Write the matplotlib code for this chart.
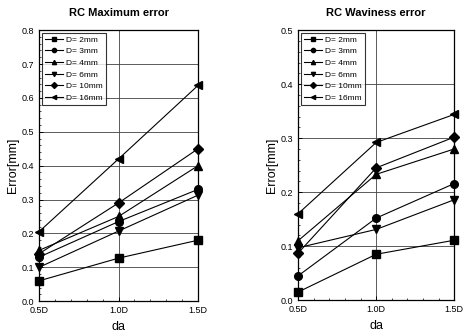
import matplotlib
matplotlib.use("Agg")
import matplotlib.pyplot as plt

plt.rcParams['font.family'] = ['Liberation Sans', 'DejaVu Sans']

# x positions (da) and their tick labels
da = [0.5, 1.0, 1.5]
da_labels = ['0.5D', '1.0D', '1.5D']

series_labels = ['D= 2mm', 'D= 3mm', 'D= 4mm', 'D= 6mm', 'D= 10mm', 'D= 16mm']
markers = ['s', 'o', '^', 'v', 'D', '<']

# RC Maximum error [mm]
max_2mm = [0.06, 0.127, 0.18]
max_3mm = [0.13, 0.235, 0.33]
max_4mm = [0.15, 0.25, 0.40]
max_6mm = [0.10, 0.207, 0.313]
max_10mm = [0.14, 0.29, 0.45]
max_16mm = [0.205, 0.42, 0.637]

# RC Waviness error [mm]
wav_2mm = [0.015, 0.085, 0.111]
wav_3mm = [0.045, 0.152, 0.216]
wav_4mm = [0.11, 0.233, 0.28]
wav_6mm = [0.097, 0.131, 0.186]
wav_10mm = [0.087, 0.245, 0.302]
wav_16mm = [0.16, 0.292, 0.344]

max_series = [max_2mm, max_3mm, max_4mm, max_6mm, max_10mm, max_16mm]
wav_series = [wav_2mm, wav_3mm, wav_4mm, wav_6mm, wav_10mm, wav_16mm]

fig = plt.figure(figsize=(4.65, 3.35), dpi=100)
ax1 = fig.add_axes([0.084, 0.101, 0.342, 0.809])
ax2 = fig.add_axes([0.641, 0.104, 0.336, 0.806])


def draw_panel(ax, series, title, ymax):
    ax.set_xlim(0.5, 1.5)
    ax.set_ylim(0, ymax)
    yt = [round(i * 0.1, 1) for i in range(int(round(ymax * 10)) + 1)]
    ax.set_yticks(yt)
    ax.set_yticklabels([f'{v:.1f}' for v in yt])
    ax.set_xticks(da)
    ax.set_xticklabels(da_labels)
    ax.grid(True, color='0.25', lw=0.6)
    ax.set_axisbelow(True)
    for vals, mk, lab in zip(series, markers, series_labels):
        ax.plot(da, vals, color='black', lw=0.8, marker=mk, ms=5.5,
                label=lab, clip_on=False, zorder=3)
    ax.tick_params(labelsize=6.5, direction='in', length=3, width=0.7)
    ax.minorticks_on()
    ax.tick_params(which='minor', direction='in', length=1.5, width=0.5)
    for sp in ax.spines.values():
        sp.set_linewidth(0.9)
    ax.set_title(title, fontsize=8, fontweight='bold', pad=10)
    ax.set_xlabel('da', fontsize=9, labelpad=4)
    ax.set_ylabel('Error[mm]', fontsize=9, labelpad=2)
    leg = ax.legend(loc='upper left', fontsize=6, frameon=True, fancybox=False,
                    edgecolor='black', handlelength=2.2, handletextpad=0.3,
                    borderpad=0.4, labelspacing=0.45, borderaxespad=0.3,
                    markerscale=0.55)
    leg.get_frame().set_linewidth(0.8)


draw_panel(ax1, max_series, 'RC Maximum error', 0.8)
draw_panel(ax2, wav_series, 'RC Waviness error', 0.5)

fig.savefig('out.png', dpi=100)
